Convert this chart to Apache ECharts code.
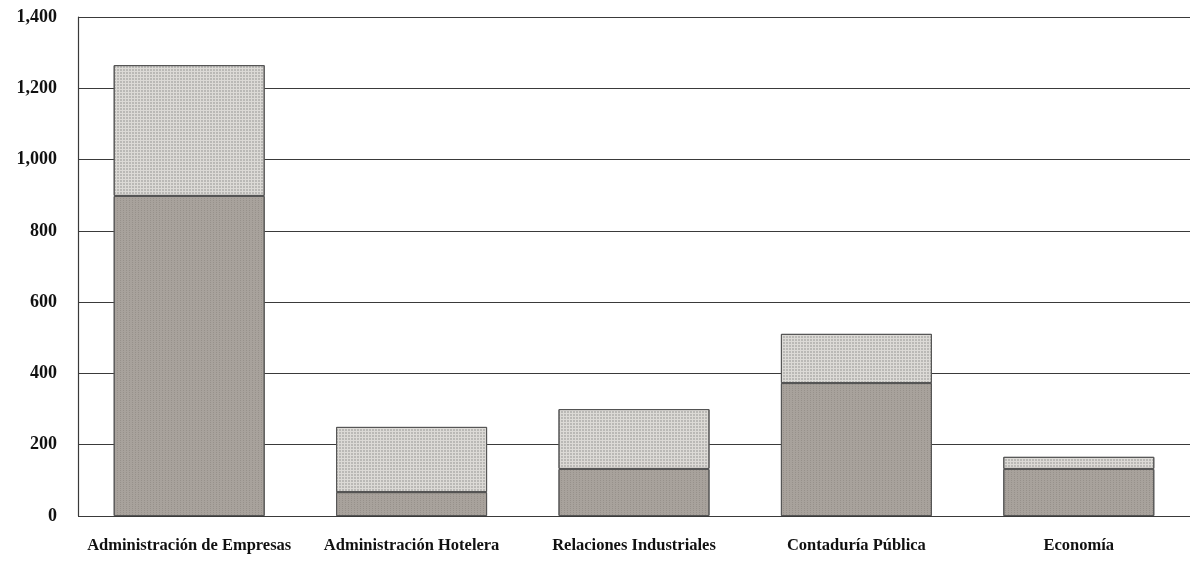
<!DOCTYPE html>
<html>
<head>
    <meta charset="utf-8">
    <title>ECharts</title>
    <script src="https://cdn.jsdelivr.net/npm/echarts@6/dist/echarts.min.js"></script>
    <style type="text/css">
        html, body {
            height: 100%;
            margin: 0;
            background: #fff;
        }
    </style>
</head>
<body>
<div id="main" style="width: 1190px;height:562px;"></div>
<script type="text/javascript">
    var categories = ['Administración de Empresas', 'Administración Hotelera', 'Relaciones Industriales', 'Contaduría Pública', 'Economía'];
    var lowerValues = [898, 67, 132, 373, 132];
    var upperValues = [367, 183, 168, 138, 34];

    var myChart = echarts.init(document.getElementById('main'), null, {renderer: 'canvas'});

    var option = {
        animation: false,
        grid: {left: 78, right: 0, top: 17, bottom: 46},
        xAxis: {
            type: 'category',
            data: categories,
            axisLine: {show: false},
            axisTick: {show: false},
            axisLabel: {
                interval: 0,
                margin: 21,
                color: '#111',
                fontFamily: 'Liberation Serif',
                fontWeight: 'bold',
                fontSize: 16.5
            }
        },
        yAxis: {
            type: 'value',
            min: 0,
            max: 1400,
            interval: 200,
            axisLine: {show: true, lineStyle: {color: '#3a3a3a', width: 1.2}},
            axisTick: {show: false},
            axisLabel: {
                margin: 21,
                color: '#111',
                fontFamily: 'Liberation Serif',
                fontWeight: 'bold',
                fontSize: 18,
                formatter: function (v) {
                    return v.toLocaleString('en-US');
                }
            },
            splitLine: {lineStyle: {color: '#3a3a3a', width: 1.2}}
        },
        series: [{
            type: 'bar',
            stack: 'total',
            barWidth: 151,
            data: lowerValues,
            itemStyle: {
                color: '#a8a29c',
                borderColor: '#555',
                borderWidth: 1,
                decal: {
                    symbol: 'rect',
                    symbolSize: 1,
                    dashArrayX: [1, 2],
                    dashArrayY: [1, 1],
                    color: 'rgba(120,115,110,0.35)'
                }
            }
        }, {
            type: 'bar',
            stack: 'total',
            barWidth: 151,
            data: upperValues,
            itemStyle: {
                color: '#dcdad6',
                borderColor: '#555',
                borderWidth: 1,
                decal: {
                    symbol: 'circle',
                    symbolSize: 0.9,
                    dashArrayX: [2, 1],
                    dashArrayY: [2, 1],
                    color: 'rgba(110,110,110,0.45)'
                }
            }
        }]
    };

    myChart.setOption(option);

    window.addEventListener("resize", function () {
        myChart.resize();
    });
</script>
</body>
</html>
